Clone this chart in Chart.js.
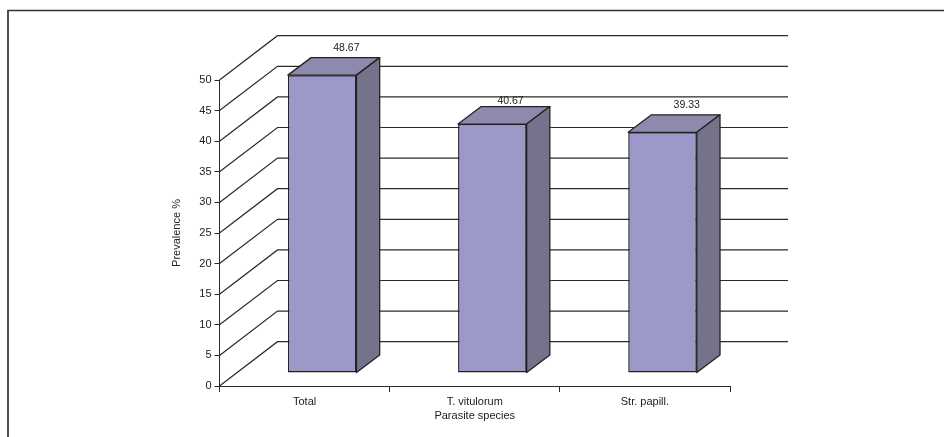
<!DOCTYPE html>
<html lang="en">
<head>
    <meta charset="UTF-8">
    <title>Prevalence by parasite species</title>
    <style>
        html, body { margin: 0; padding: 0; background: #fff; }
        canvas { display: block; }
    </style>
    <script src="https://cdn.jsdelivr.net/npm/chart.js@4.4.0/dist/chart.umd.min.js"></script>
</head>
<body>
    <canvas id="chart" width="944" height="437"></canvas>
    <script>
        const categories = ['Total', 'T. vitulorum', 'Str. papill.'];
        const prevalence = [48.67, 40.67, 39.33];
        const barLabels = ['48.67', '40.67', '39.33'];
        const yTicks = [0, 5, 10, 15, 20, 25, 30, 35, 40, 45, 50];

        const fontFamily = '"Liberation Sans", Arial, sans-serif';
        const lineColor = '#2a2a2a';

        // fake 3D: how far the back wall and the bars sit from the axes
        const wallDx = 58, wallDy = 44.3;
        const barDx = 17.6, barDy = 13;
        const depthDx = 23.2, depthDy = 17.5;

        const box3d = {
            id: 'box3d',
            beforeDatasetsDraw(chart) {
                const { ctx, scales: { x, y } } = chart;
                ctx.save();

                // frame round the picture (runs off the right and bottom)
                ctx.strokeStyle = '#333';
                ctx.lineWidth = 1.7;
                ctx.beginPath();
                ctx.moveTo(8, 437);
                ctx.lineTo(8, 10.5);
                ctx.lineTo(944, 10.5);
                ctx.stroke();

                // side wall and back wall lines
                ctx.strokeStyle = lineColor;
                ctx.lineWidth = 1.2;
                yTicks.forEach(t => {
                    const py = y.getPixelForValue(t);
                    ctx.beginPath();
                    ctx.moveTo(x.left, py);
                    ctx.lineTo(x.left + wallDx, py - wallDy);
                    ctx.lineTo(x.right + wallDx, py - wallDy);
                    ctx.stroke();
                });

                // value labels go under the bars, the middle one is clipped by its bar
                const bars = chart.getDatasetMeta(0).data;
                ctx.fillStyle = '#222';
                ctx.font = '10.5px ' + fontFamily;
                ctx.textAlign = 'center';
                ctx.textBaseline = 'middle';
                bars.forEach((bar, i) => {
                    const lift = i === 1 ? 5.7 : 9.3;
                    const nudge = i === 1 ? -5 : 1;
                    ctx.fillText(barLabels[i], bar.x + barDx + depthDx + nudge,
                        bar.y - barDy - depthDy - lift);
                });
                ctx.restore();
            },
            beforeDatasetDraw(chart) {
                const { ctx } = chart;
                ctx.save();
                ctx.translate(barDx, -barDy);
            },
            afterDatasetDraw(chart) {
                const { ctx } = chart;
                ctx.lineWidth = 1.3;
                ctx.strokeStyle = '#222';
                ctx.lineJoin = 'round';
                chart.getDatasetMeta(0).data.forEach(bar => {
                    const l = bar.x - bar.width / 2, r = bar.x + bar.width / 2;
                    // top face
                    ctx.fillStyle = '#8e8aad';
                    ctx.beginPath();
                    ctx.moveTo(l, bar.y);
                    ctx.lineTo(l + depthDx, bar.y - depthDy);
                    ctx.lineTo(r + depthDx, bar.y - depthDy);
                    ctx.lineTo(r, bar.y);
                    ctx.closePath();
                    ctx.fill();
                    ctx.stroke();
                    // side face
                    ctx.fillStyle = '#75738b';
                    ctx.beginPath();
                    ctx.moveTo(r, bar.y);
                    ctx.lineTo(r + depthDx, bar.y - depthDy);
                    ctx.lineTo(r + depthDx, bar.base - depthDy);
                    ctx.lineTo(r, bar.base);
                    ctx.closePath();
                    ctx.fill();
                    ctx.stroke();
                });
                ctx.restore();
            }
        };

        new Chart(document.getElementById('chart'), {
            type: 'bar',
            data: {
                labels: categories,
                datasets: [{
                    data: prevalence,
                    backgroundColor: '#9c98c9',
                    borderColor: '#222',
                    borderWidth: 1.5,
                    borderSkipped: false,
                    barPercentage: 0.403,
                    categoryPercentage: 1
                }]
            },
            options: {
                responsive: false,
                animation: false,
                devicePixelRatio: 1,
                layout: { padding: { left: 170, right: 214, top: 80, bottom: 14 } },
                plugins: {
                    legend: { display: false },
                    tooltip: { enabled: false }
                },
                scales: {
                    x: {
                        afterFit: scale => { scale.height = 37; },
                        grid: { drawOnChartArea: false, tickLength: 6, color: lineColor },
                        border: { color: lineColor },
                        ticks: {
                            color: '#222',
                            padding: 3,
                            maxRotation: 0,
                            font: { family: fontFamily, size: 11 }
                        },
                        title: {
                            display: true,
                            text: 'Parasite species',
                            color: '#222',
                            padding: 0,
                            font: { family: fontFamily, size: 11 }
                        }
                    },
                    y: {
                        min: 0,
                        max: 50,
                        afterFit: scale => { scale.width = 49.5; },
                        afterBuildTicks: scale => {
                            scale.ticks = yTicks.map(value => ({ value }));
                        },
                        grid: { drawOnChartArea: false, tickLength: 5, color: lineColor },
                        border: { color: lineColor },
                        ticks: {
                            color: '#222',
                            padding: 3,
                            font: { family: fontFamily, size: 11 }
                        },
                        title: {
                            display: true,
                            text: 'Prevalence %',
                            color: '#222',
                            padding: 0,
                            font: { family: fontFamily, size: 11 }
                        }
                    }
                }
            },
            plugins: [box3d]
        });
    </script>
</body>
</html>
